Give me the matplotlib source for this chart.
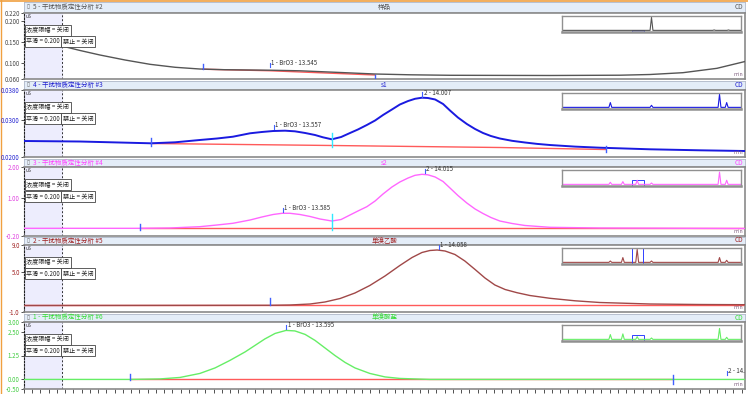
import matplotlib
matplotlib.use('Agg')
import matplotlib.pyplot as plt
import numpy as np

plt.rcParams['font.family'] = ['Noto Sans CJK SC', 'DejaVu Sans']

# ---------------- data ----------------
x_range = (12.80, 14.985)
shade_end = 12.915

headers = ["5 - 干扰物质定性分析 #2", "4 - 干扰物质定性分析 #3", "3 - 干扰物质定性分析 #4",
           "2 - 干扰物质定性分析 #5", "1 - 干扰物质定性分析 #6"]
titles = ["样品", "s1", "s2", "单溴乙酸", "单溴酸盐"]

ylims = [(0.060, 0.220), (0.020, 0.038), (-0.20, 2.00), (-1.0, 9.0), (-0.50, 3.00)]
yticks = [[0.060, 0.100, 0.150, 0.200, 0.220], [0.020, 0.030, 0.038], [-0.20, 1.00, 2.00],
          [-1.0, 5.0, 9.0], [-0.50, 0.00, 1.25, 2.50, 3.00]]
yticklabels = [["0.060", "0.100", "0.150", "0.200", "0.220"], ["0.0200", "0.0300", "0.0380"],
               ["-0.20", "1.00", "2.00"], ["-1.0", "5.0", "9.0"],
               ["-0.50", "0.00", "1.25", "2.50", "3.00"]]

# panel 1 (样品)
t1 = [12.800, 12.864, 12.915, 12.970, 13.030, 13.106, 13.182, 13.258, 13.333, 13.409, 13.485,
      13.545, 13.636, 13.758, 13.864, 13.970, 14.091, 14.394, 14.606, 14.697, 14.797, 14.900,
      14.985]
v1 = [0.1764, 0.1562, 0.1400, 0.1291, 0.1182, 0.1061, 0.0956, 0.0884, 0.0842, 0.0825, 0.0818,
      0.0813, 0.0799, 0.0758, 0.0721, 0.0702, 0.0690, 0.0685, 0.0692, 0.0709, 0.0753, 0.0859,
      0.1024]
# panel 2 (s1)
t2 = [12.800, 12.970, 13.185, 13.258, 13.333, 13.385, 13.433, 13.485, 13.521, 13.555, 13.591,
      13.621, 13.652, 13.682, 13.706, 13.733, 13.761, 13.788, 13.812, 13.839, 13.864, 13.888,
      13.915, 13.939, 13.964, 13.985, 14.006, 14.024, 14.046, 14.070, 14.091, 14.115, 14.142,
      14.167, 14.191, 14.215, 14.242, 14.279, 14.318, 14.355, 14.394, 14.470, 14.545, 14.697,
      14.848, 14.985]
v2 = [0.02430, 0.02416, 0.02368, 0.02395, 0.02457, 0.02497, 0.02545, 0.02637, 0.02672, 0.02698,
      0.02707, 0.02690, 0.02645, 0.02591, 0.02529, 0.02475, 0.02537, 0.02645, 0.02739, 0.02860,
      0.02981, 0.03128, 0.03276, 0.03410, 0.03504, 0.03564, 0.03593, 0.03585, 0.03545, 0.03424,
      0.03249, 0.03061, 0.02887, 0.02752, 0.02645, 0.02564, 0.02497, 0.02435, 0.02390, 0.02352,
      0.02322, 0.02279, 0.02250, 0.02207, 0.02180, 0.02161]
# panel 3 (s2)
t3 = [12.800, 13.152, 13.242, 13.333, 13.385, 13.433, 13.485, 13.521, 13.555, 13.582, 13.606,
      13.636, 13.667, 13.697, 13.733, 13.761, 13.788, 13.812, 13.839, 13.864, 13.888, 13.915,
      13.939, 13.964, 13.985, 14.006, 14.024, 14.046, 14.070, 14.091, 14.115, 14.142, 14.167,
      14.191, 14.215, 14.242, 14.279, 14.318, 14.394, 14.545, 14.985]
v3 = [0.045, 0.045, 0.055, 0.097, 0.151, 0.205, 0.310, 0.406, 0.486, 0.524, 0.524,
      0.486, 0.422, 0.342, 0.278, 0.326, 0.470, 0.597, 0.734, 0.916, 1.139, 1.362,
      1.522, 1.649, 1.735, 1.767, 1.751, 1.681, 1.538, 1.330, 1.091, 0.852, 0.661,
      0.517, 0.390, 0.278, 0.199, 0.135, 0.077, 0.055, 0.039]
# panel 4 (单溴乙酸)
t4 = [12.800, 13.545, 13.606, 13.667, 13.712, 13.758, 13.803, 13.848, 13.894, 13.939, 13.976,
      14.006, 14.030, 14.052, 14.076, 14.106, 14.136, 14.167, 14.197, 14.227, 14.258, 14.294,
      14.333, 14.394, 14.470, 14.545, 14.697, 14.848, 14.985]
v4 = [-0.03, 0.00, 0.045, 0.194, 0.493, 1.015, 1.836, 2.955, 4.373, 5.940, 7.134,
      7.881, 8.179, 8.254, 8.104, 7.582, 6.612, 5.343, 4.075, 3.030, 2.358, 1.881,
      1.463, 1.045, 0.672, 0.418, 0.194, 0.119, 0.090]
# panel 5 (单溴酸盐)
t5 = [12.800, 13.121, 13.212, 13.273, 13.333, 13.379, 13.424, 13.470, 13.500, 13.530, 13.561,
      13.594, 13.621, 13.652, 13.682, 13.712, 13.742, 13.773, 13.803, 13.848, 13.894, 13.939,
      14.030, 14.985]
v5 = [0.000, 0.000, 0.026, 0.104, 0.313, 0.601, 0.993, 1.437, 1.776, 2.116, 2.403,
      2.560, 2.534, 2.351, 2.038, 1.646, 1.254, 0.888, 0.601, 0.313, 0.131, 0.052,
      0.000, 0.000]
curves_t = [t1, t2, t3, t4, t5]
curves_v = [v1, v2, v3, v4, v5]

# baselines (red)
base_t = [[13.342, 13.545, 13.864], [13.185, 13.733, 14.242, 14.564], [13.152, 14.985],
          [12.800, 14.985], [13.121, 14.767]]
base_v = [[0.0837, 0.0800, 0.0697], [0.02363, 0.02309, 0.02255, 0.02201], [0.045, 0.045],
          [-0.02, -0.02], [0.0, 0.0]]

# baseline markers: time, y-from, y-to, kind
marks = [
    [(13.342, 0.0964, 0.0842, 'b'), (13.864, 0.0697, 0.0600, 'b')],
    [(13.185, 0.0251, 0.02295, 'b'), (13.733, 0.02645, 0.02268, 'c'), (14.564, 0.02295, 0.02134, 'b')],
    [(13.152, 0.183, -0.009, 'b'), (13.733, 0.501, -0.009, 'c')],
    [(13.545, 1.09, 0.04, 'b')],
    [(13.121, 0.284, -0.03, 'b'), (14.767, 0.231, -0.24, 'b')],
]

# peak labels: time, label-bottom value, text
peak_labels = [
    [(13.545, 0.0891, "1 - BrO3 - 13.545")],
    [(13.557, 0.02752, "1 - BrO3 - 13.557"), (14.007, 0.03625, "2 - 14.007")],
    [(13.585, 0.565, "1 - BrO3 - 13.585"), (14.015, 1.793, "2 - 14.015")],
    [(14.058, 8.40, "1 - 14.058")],
    [(13.595, 2.634, "1 - BrO3 - 13.595"), (14.930, 0.231, "2 - 14.1")],
]

# overview insets: relative peak positions and heights
inset_pos = [[0.50, 0.85, 0.93], [0.27, 0.50, 0.88, 0.92], [0.27, 0.34, 0.42, 0.50, 0.88, 0.92],
             [0.27, 0.34, 0.42, 0.50, 0.88, 0.92], [0.27, 0.34, 0.42, 0.50, 0.88, 0.92]]
inset_h = [[0.95, 0.03, 0.03], [0.35, 0.15, 0.95, 0.35], [0.15, 0.2, 0.3, 0.1, 0.9, 0.3],
           [0.1, 0.35, 0.95, 0.1, 0.35, 0.15], [0.35, 0.4, 0.2, 0.1, 0.8, 0.15]]

# ---------------- styles ----------------
W, H = 748, 394
X0, X1 = 24, 745
hdr_px = [(2, 12), (81, 89), (159, 166), (237, 244), (314, 321)]
plot_px = [(13, 79), (90, 157), (167, 236), (245, 312), (322, 389)]
line_col = ['#555555', '#1a1ae0', '#ff66ff', '#a04848', '#66ee66']
lab_col = ['#444444', '#2020d0', '#e040e0', '#a02020', '#40cc40']
hdr_col = ['#555555', '#2020d0', '#ff40ff', '#a02020', '#33dd33']
line_w = [1.0, 1.4, 1.0, 1.0, 1.0]
red = '#ff5a5a'
mk_col = {'b': '#4060ff', 'c': '#30e8ff'}


def rect(x0, y0, x1, y1):
    return [x0 / W, 1 - y1 / H, (x1 - x0) / W, (y1 - y0) / H]


fig = plt.figure(figsize=(W / 100, H / 100), dpi=100)
fig.patch.set_facecolor('white')

# window border (orange)
bd = fig.add_axes([0, 0, 1, 1], zorder=-5)
bd.set_xlim(0, W); bd.set_ylim(H, 0); bd.axis('off')
bd.plot([0, W], [0.6, 0.6], color='#f0a040', lw=1.2)
bd.plot([1.2, 1.2], [0, H], color='#f0a040', lw=1.0)

fs = 4.4
for i in range(5):
    # header bar
    hy0, hy1 = hdr_px[i]
    hx = fig.add_axes(rect(X0, hy0, X1, hy1))
    hx.set_facecolor('#e4edf8')
    hx.set_xticks([]); hx.set_yticks([])
    for s in hx.spines.values():
        s.set_color('#b0b8c8'); s.set_linewidth(0.6)
    hx.text(0.004, 0.5, '▯', transform=hx.transAxes, fontsize=4, color='#666',
            va='center', ha='left', family=['DejaVu Sans'])
    hx.text(0.012, 0.5, headers[i], transform=hx.transAxes, fontsize=fs + 0.3,
            color=hdr_col[i], va='center', ha='left')
    hx.text(0.5, 0.5, titles[i], transform=hx.transAxes, fontsize=fs + 0.3,
            color=hdr_col[i], va='center', ha='center')
    hx.text(0.997, 0.5, 'CD', transform=hx.transAxes, fontsize=fs + 0.3,
            color=hdr_col[i], va='center', ha='right')

    # main plot
    py0, py1 = plot_px[i]
    ax = fig.add_axes(rect(X0, py0, X1, py1))
    ax.set_xlim(*x_range)
    ax.set_ylim(*ylims[i])
    ax.axvspan(x_range[0], shade_end, color='#ededfd', zorder=0)
    ax.axvline(shade_end, color='#333333', lw=0.7, ls=(0, (2, 2)), zorder=1)
    ax.plot(base_t[i], base_v[i], color=red, lw=1.0, zorder=2)
    ax.plot(curves_t[i], curves_v[i], color=line_col[i], lw=line_w[i], zorder=3,
            solid_joinstyle='round', solid_capstyle='round')
    for (t, a, b, k) in marks[i]:
        ax.plot([t, t], [a, b], color=mk_col[k], lw=1.0, zorder=4)
    yr = ylims[i][1] - ylims[i][0]
    for j, (t, vb, txt) in enumerate(peak_labels[i]):
        edge = (i == 4 and j == 1)
        ax.plot([t, t], [vb, vb + yr * 0.06], color='#4060ff', lw=0.8, zorder=4)
        ax.text(t + 0.004, vb, txt, fontsize=fs, color='#333333', va='bottom', ha='left',
                zorder=5, clip_on=edge)
    ax.set_yticks(yticks[i])
    ax.set_yticklabels(yticklabels[i])
    ax.tick_params(axis='y', labelsize=fs, colors='#333333', length=2, width=0.6, pad=1)
    for lbl in ax.get_yticklabels():
        lbl.set_color(lab_col[i])
    if i == 4:
        ax.set_xticks(np.arange(12.80, 15.0, 0.1))
        ax.set_xticks(np.arange(12.80, 15.0, 0.025), minor=True)
        ax.tick_params(axis='x', which='both', length=3, width=0.6, colors='#333333',
                       labelbottom=False)
    else:
        ax.set_xticks([])
    for s in ['top', 'right', 'bottom']:
        ax.spines[s].set_color('#8a8a8a')
        ax.spines[s].set_linewidth(1.2)
    ax.spines['left'].set_color('#222222')
    ax.spines['left'].set_linestyle((0, (1.5, 1.5)))
    ax.spines['left'].set_linewidth(0.8)

    # text boxes
    ax.text(0.002, 0.985, 'uS', transform=ax.transAxes, fontsize=3.6, color='#333',
            va='top', ha='left')
    bbox = dict(boxstyle='square,pad=0.25', fc='white', ec='#444444', lw=0.6)
    ax.text(0.003, 0.74, '浓度限幅 = 关闭', transform=ax.transAxes, fontsize=fs,
            color='#222', va='center', ha='left', bbox=bbox, zorder=6)
    ax.text(0.003, 0.57, '平滑 = 0.200', transform=ax.transAxes, fontsize=fs,
            color='#222', va='center', ha='left', bbox=bbox, zorder=6)
    ax.text(0.054, 0.57, '禁止 = 关闭', transform=ax.transAxes, fontsize=fs,
            color='#222', va='center', ha='left', bbox=bbox, zorder=6)
    ax.text(0.997, 0.03, 'min', transform=ax.transAxes, fontsize=3.8, color='#806080',
            va='bottom', ha='right', zorder=6)

    # overview inset
    ix = fig.add_axes(rect(562, py0 + 3, 741, py0 + 19))
    ix.set_xlim(0, 1); ix.set_ylim(-0.12, 1.05)
    xs = [0.0]; ys = [0.0]
    for p, hgt in zip(inset_pos[i], inset_h[i]):
        xs += [p - 0.008, p, p + 0.008]
        ys += [0.0, hgt, 0.0]
    xs.append(1.0); ys.append(0.0)
    ix.plot(xs, ys, color=line_col[i], lw=0.8)
    if i in (0, 2, 4):
        ix.add_patch(plt.Rectangle((0.39, -0.1), 0.07, 0.45 if i else 0.12, fill=(i == 0),
                                   fc='#aab0ff', ec='#3040ff', lw=0.7))
    if i == 3:
        ix.axvline(0.39, color='#3040ff', lw=0.7)
        ix.axvline(0.455, color='#3040ff', lw=0.7)
    ix.set_xticks([]); ix.set_yticks([])
    for s in ix.spines.values():
        s.set_color('#909090'); s.set_linewidth(1.0)
    ix.spines['bottom'].set_linewidth(1.8)

fig.savefig('out.png', dpi=100, facecolor='white')
